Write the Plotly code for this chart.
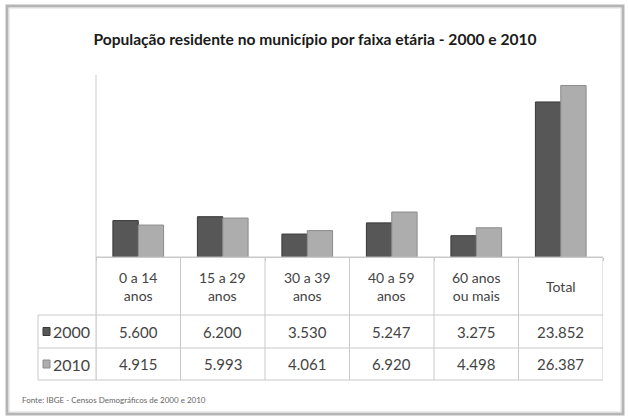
import plotly.graph_objects as go

# dados do gráfico
categorias = ['0 a 14<br>anos', '15 a 29<br>anos', '30 a 39<br>anos',
              '40 a 59<br>anos', '60 anos<br>ou mais', 'Total']
anos = ['2000', '2010']
pop_2000 = [5600, 6200, 3530, 5247, 3275, 23852]
pop_2010 = [4915, 5993, 4061, 6920, 4498, 26387]
cores = ['#575757', '#adadad']
bordas = ['#383838', '#8c8c8c']

titulo = 'População residente no município por faixa etária - 2000 e 2010'
fonte = 'Fonte: IBGE - Censos Demográficos de 2000 e 2010'

# geometria em pixels
W, H = 628, 419
L, R, T, B = 96, 603, 75, 257
ROW_Y = [257, 315, 348, 380]   # linhas horizontais da tabela
KEY_X = 38                      # borda esquerda da coluna de legenda
GRID = '#c9c9c9'
TXT = '#444444'
FONT = 'Lato'


def px_x(p):
    return (p - L) / (R - L)


def px_y(p):
    return (B - p) / (B - T)


def fmt(v):
    return f'{v:,}'.replace(',', '.')


idx = list(range(len(categorias)))
series = [pop_2000, pop_2010]

fig = go.Figure()
for ano, vals, cor, borda in zip(anos, series, cores, bordas):
    fig.add_trace(go.Bar(
        x=idx, y=vals, name=ano,
        marker=dict(color=cor, line=dict(color=borda, width=1)),
        hovertemplate='%{y}<extra>' + ano + '</extra>'
    ))

shapes = []
# moldura externa com sombra
shapes.append(dict(type='rect', xref='paper', yref='paper',
                   x0=px_x(7), x1=px_x(623), y0=px_y(414), y1=px_y(6),
                   line=dict(color='#b5b5b5', width=3)))
shapes.append(dict(type='rect', xref='paper', yref='paper',
                   x0=px_x(9), x1=px_x(621), y0=px_y(412), y1=px_y(8),
                   line=dict(color='#dddddd', width=1)))

# linhas horizontais da tabela
for i, yy in enumerate(ROW_Y):
    x0 = L if i == 0 else KEY_X
    shapes.append(dict(type='line', xref='paper', yref='paper',
                       x0=px_x(x0), x1=1, y0=px_y(yy), y1=px_y(yy),
                       line=dict(color=GRID, width=1)))

# linhas verticais entre categorias
for i in range(len(categorias) + 1):
    shapes.append(dict(type='line', xref='x', yref='paper',
                       x0=i - 0.5, x1=i - 0.5, y0=px_y(ROW_Y[0]), y1=px_y(ROW_Y[-1]),
                       line=dict(color=GRID, width=1)))
# eixo y prolongado e borda da coluna de legenda
shapes.append(dict(type='line', xref='paper', yref='paper',
                   x0=0, x1=0, y0=1, y1=px_y(ROW_Y[-1]),
                   line=dict(color=GRID, width=1)))
shapes.append(dict(type='line', xref='paper', yref='paper',
                   x0=px_x(KEY_X), x1=px_x(KEY_X), y0=px_y(ROW_Y[1]), y1=px_y(ROW_Y[-1]),
                   line=dict(color=GRID, width=1)))

annotations = []
# cabeçalho com categorias
hy = (ROW_Y[0] + ROW_Y[1]) / 2
for i, cat in enumerate(categorias):
    annotations.append(dict(x=i, y=px_y(hy), xref='x', yref='paper', text=cat,
                            xanchor='center', yanchor='middle', showarrow=False,
                            font=dict(family=FONT, size=14, color=TXT)))

# valores por ano
for r, (ano, vals, cor, borda) in enumerate(zip(anos, series, cores, bordas)):
    cy = (ROW_Y[r + 1] + ROW_Y[r + 2]) / 2
    for i, v in enumerate(vals):
        annotations.append(dict(x=i, y=px_y(cy), xref='x', yref='paper', text=fmt(v),
                                xanchor='center', yanchor='middle', showarrow=False,
                                font=dict(family=FONT, size=15, color=TXT)))
    annotations.append(dict(x=px_x(51), y=px_y(cy), xref='paper', yref='paper', text=ano,
                            xanchor='left', yanchor='middle', showarrow=False,
                            font=dict(family=FONT, size=16, color=TXT)))
    shapes.append(dict(type='rect', xref='paper', yref='paper',
                       x0=px_x(43), x1=px_x(50), y0=px_y(cy + 4), y1=px_y(cy - 4),
                       fillcolor=cor, line=dict(color=borda, width=1)))

annotations.append(dict(x=px_x(20), y=px_y(400), xref='paper', yref='paper', text=fonte,
                        xanchor='left', yanchor='middle', showarrow=False,
                        font=dict(family=FONT, size=8, color='#666666')))

fig.update_layout(
    width=W, height=H,
    margin=dict(l=L, r=W - R, t=T, b=H - B),
    paper_bgcolor='white', plot_bgcolor='white',
    title=dict(text='<b>' + titulo + '</b>', x=315 / W, xanchor='center',
               y=1 - 40 / H, yanchor='middle',
               font=dict(family=FONT, size=15.6, color='#1a1a1a')),
    barmode='group', bargap=0.4, bargroupgap=0,
    showlegend=False,
    xaxis=dict(range=[-0.5, len(categorias) - 0.5], showticklabels=False,
               showgrid=False, zeroline=False, showline=True, linecolor=GRID,
               ticks='outside', tickvals=[i - 0.5 for i in range(len(categorias) + 1)],
               ticklen=3, tickcolor=GRID),
    yaxis=dict(range=[0, 28000], showticklabels=False, showgrid=False,
               zeroline=False, showline=False),
    shapes=shapes, annotations=annotations,
)

# remove a margem padrão do body para alinhar a figura ao canto da janela
fig.write_html('out.html', config={'displayModeBar': False},
               post_script="document.body.style.margin='0';")
